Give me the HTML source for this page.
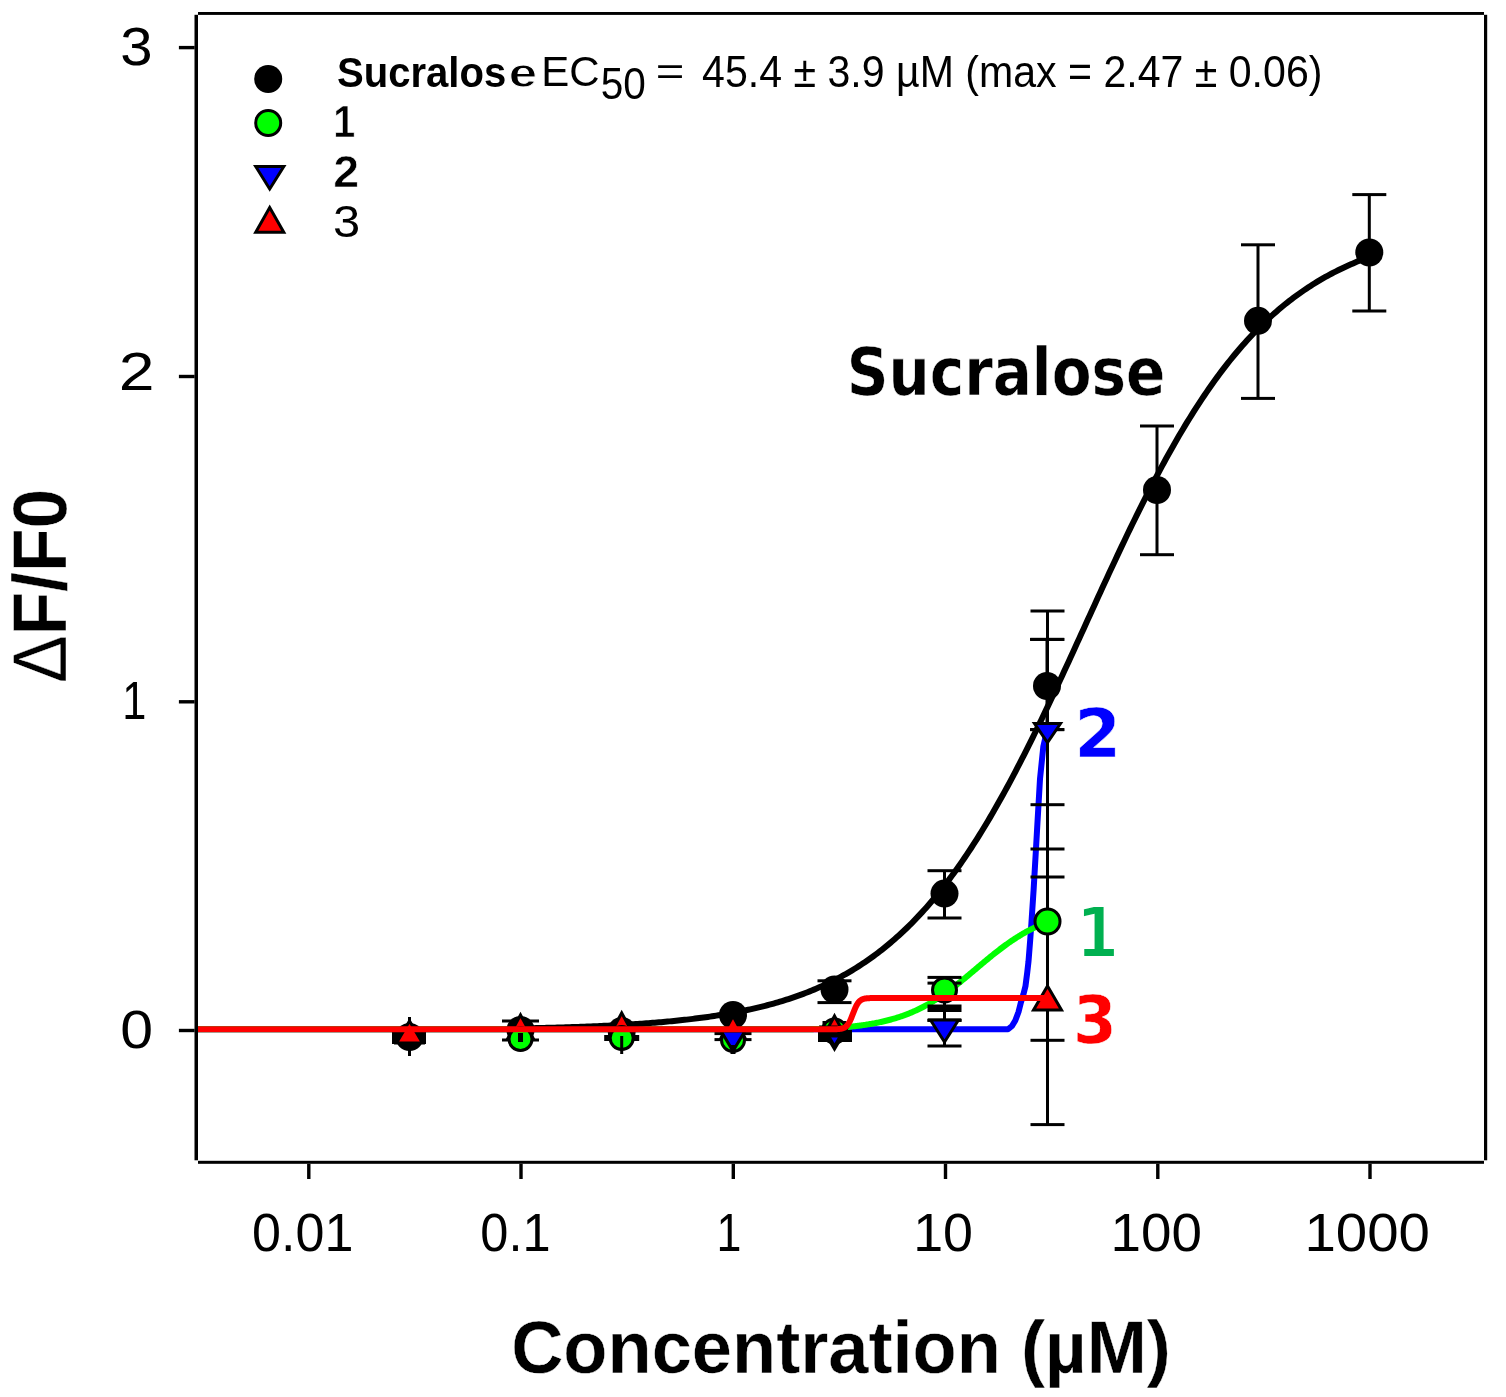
<!DOCTYPE html>
<html><head><meta charset="utf-8"><title>Sucralose dose response</title>
<style>html,body{margin:0;padding:0;background:#fff;}svg{display:block;}</style>
</head><body>
<svg width="1506" height="1397" viewBox="0 0 1506 1397">
<rect width="1506" height="1397" fill="#fff"/>
<rect x="194.5" y="14.8" width="3.5" height="1145.5" fill="#000"/><rect x="198" y="12" width="1286" height="2.9" fill="#000"/><rect x="1484" y="14.8" width="3.2" height="1145.5" fill="#000"/><rect x="198" y="1160.8" width="1286" height="3" fill="#000"/><rect x="178.9" y="45.9" width="15.7" height="3.4" fill="#000"/><rect x="178.9" y="374.8" width="15.7" height="3.4" fill="#000"/><rect x="178.9" y="700.1" width="15.7" height="3.4" fill="#000"/><rect x="178.9" y="1028.8" width="15.7" height="3.4" fill="#000"/><rect x="307.1" y="1163.8" width="3.4" height="15.2" fill="#000"/><rect x="519.3" y="1163.8" width="3.4" height="15.2" fill="#000"/><rect x="731.6" y="1163.8" width="3.4" height="15.2" fill="#000"/><rect x="943.8" y="1163.8" width="3.4" height="15.2" fill="#000"/><rect x="1156.1" y="1163.8" width="3.4" height="15.2" fill="#000"/><rect x="1368.3" y="1163.8" width="3.4" height="15.2" fill="#000"/>
<path d="M198.00,1029.30 L1008.00,1029.30 L1012.00,1026.00 L1015.30,1020.50 L1018.50,1012.00 L1021.00,1002.00 L1023.50,994.00 L1025.50,986.00 L1027.30,972.00 L1028.50,961.40 L1030.20,940.00 L1031.40,923.40 L1033.60,890.00 L1035.80,852.00 L1037.50,822.00 L1040.00,779.00 L1043.30,746.80 L1046.50,733.00" fill="none" stroke="#0000FF" stroke-width="6" stroke-linejoin="round"/><path d="M198.00,1029.30 L199.00,1029.30 L200.00,1029.30 L201.00,1029.30 L202.00,1029.30 L203.00,1029.30 L204.00,1029.30 L205.00,1029.30 L206.00,1029.30 L207.00,1029.30 L208.00,1029.30 L209.00,1029.30 L210.00,1029.30 L211.00,1029.30 L212.00,1029.30 L213.00,1029.30 L214.00,1029.30 L215.00,1029.30 L216.00,1029.30 L217.00,1029.30 L218.00,1029.30 L219.00,1029.30 L220.00,1029.30 L221.00,1029.30 L222.00,1029.30 L223.00,1029.30 L224.00,1029.30 L225.00,1029.30 L226.00,1029.30 L227.00,1029.30 L228.00,1029.30 L229.00,1029.30 L230.00,1029.30 L231.00,1029.30 L232.00,1029.30 L233.00,1029.30 L234.00,1029.30 L235.00,1029.30 L236.00,1029.30 L237.00,1029.30 L238.00,1029.30 L239.00,1029.30 L240.00,1029.30 L241.00,1029.30 L242.00,1029.30 L243.00,1029.30 L244.00,1029.30 L245.00,1029.30 L246.00,1029.30 L247.00,1029.30 L248.00,1029.30 L249.00,1029.30 L250.00,1029.30 L251.00,1029.30 L252.00,1029.30 L253.00,1029.30 L254.00,1029.30 L255.00,1029.30 L256.00,1029.30 L257.00,1029.30 L258.00,1029.30 L259.00,1029.30 L260.00,1029.30 L261.00,1029.30 L262.00,1029.30 L263.00,1029.30 L264.00,1029.30 L265.00,1029.30 L266.00,1029.30 L267.00,1029.30 L268.00,1029.30 L269.00,1029.30 L270.00,1029.30 L271.00,1029.30 L272.00,1029.30 L273.00,1029.30 L274.00,1029.30 L275.00,1029.30 L276.00,1029.30 L277.00,1029.30 L278.00,1029.30 L279.00,1029.30 L280.00,1029.30 L281.00,1029.30 L282.00,1029.30 L283.00,1029.30 L284.00,1029.30 L285.00,1029.30 L286.00,1029.30 L287.00,1029.30 L288.00,1029.30 L289.00,1029.30 L290.00,1029.30 L291.00,1029.30 L292.00,1029.30 L293.00,1029.30 L294.00,1029.30 L295.00,1029.30 L296.00,1029.30 L297.00,1029.30 L298.00,1029.30 L299.00,1029.30 L300.00,1029.30 L301.00,1029.30 L302.00,1029.30 L303.00,1029.30 L304.00,1029.30 L305.00,1029.30 L306.00,1029.30 L307.00,1029.30 L308.00,1029.30 L309.00,1029.30 L310.00,1029.30 L311.00,1029.30 L312.00,1029.30 L313.00,1029.30 L314.00,1029.30 L315.00,1029.30 L316.00,1029.30 L317.00,1029.30 L318.00,1029.30 L319.00,1029.30 L320.00,1029.30 L321.00,1029.30 L322.00,1029.30 L323.00,1029.30 L324.00,1029.30 L325.00,1029.30 L326.00,1029.30 L327.00,1029.30 L328.00,1029.30 L329.00,1029.30 L330.00,1029.30 L331.00,1029.30 L332.00,1029.30 L333.00,1029.30 L334.00,1029.30 L335.00,1029.30 L336.00,1029.30 L337.00,1029.30 L338.00,1029.30 L339.00,1029.30 L340.00,1029.30 L341.00,1029.30 L342.00,1029.30 L343.00,1029.30 L344.00,1029.30 L345.00,1029.30 L346.00,1029.30 L347.00,1029.30 L348.00,1029.30 L349.00,1029.30 L350.00,1029.30 L351.00,1029.30 L352.00,1029.30 L353.00,1029.30 L354.00,1029.30 L355.00,1029.30 L356.00,1029.30 L357.00,1029.30 L358.00,1029.30 L359.00,1029.30 L360.00,1029.30 L361.00,1029.30 L362.00,1029.30 L363.00,1029.30 L364.00,1029.30 L365.00,1029.30 L366.00,1029.30 L367.00,1029.30 L368.00,1029.30 L369.00,1029.30 L370.00,1029.30 L371.00,1029.30 L372.00,1029.30 L373.00,1029.30 L374.00,1029.30 L375.00,1029.30 L376.00,1029.30 L377.00,1029.30 L378.00,1029.30 L379.00,1029.30 L380.00,1029.30 L381.00,1029.30 L382.00,1029.30 L383.00,1029.30 L384.00,1029.30 L385.00,1029.30 L386.00,1029.30 L387.00,1029.30 L388.00,1029.30 L389.00,1029.30 L390.00,1029.30 L391.00,1029.30 L392.00,1029.30 L393.00,1029.30 L394.00,1029.30 L395.00,1029.30 L396.00,1029.30 L397.00,1029.30 L398.00,1029.30 L399.00,1029.30 L400.00,1029.30 L401.00,1029.30 L402.00,1029.30 L403.00,1029.30 L404.00,1029.30 L405.00,1029.30 L406.00,1029.30 L407.00,1029.30 L408.00,1029.30 L409.00,1029.30 L410.00,1029.30 L411.00,1029.30 L412.00,1029.30 L413.00,1029.30 L414.00,1029.30 L415.00,1029.30 L416.00,1029.30 L417.00,1029.30 L418.00,1029.30 L419.00,1029.30 L420.00,1029.30 L421.00,1029.30 L422.00,1029.30 L423.00,1029.30 L424.00,1029.30 L425.00,1029.30 L426.00,1029.30 L427.00,1029.30 L428.00,1029.30 L429.00,1029.30 L430.00,1029.30 L431.00,1029.30 L432.00,1029.30 L433.00,1029.30 L434.00,1029.30 L435.00,1029.30 L436.00,1029.30 L437.00,1029.30 L438.00,1029.30 L439.00,1029.30 L440.00,1029.30 L441.00,1029.30 L442.00,1029.30 L443.00,1029.30 L444.00,1029.30 L445.00,1029.30 L446.00,1029.30 L447.00,1029.30 L448.00,1029.30 L449.00,1029.30 L450.00,1029.30 L451.00,1029.30 L452.00,1029.30 L453.00,1029.30 L454.00,1029.30 L455.00,1029.30 L456.00,1029.30 L457.00,1029.30 L458.00,1029.30 L459.00,1029.30 L460.00,1029.30 L461.00,1029.30 L462.00,1029.30 L463.00,1029.30 L464.00,1029.30 L465.00,1029.30 L466.00,1029.30 L467.00,1029.30 L468.00,1029.30 L469.00,1029.30 L470.00,1029.30 L471.00,1029.30 L472.00,1029.30 L473.00,1029.30 L474.00,1029.30 L475.00,1029.30 L476.00,1029.30 L477.00,1029.30 L478.00,1029.30 L479.00,1029.30 L480.00,1029.30 L481.00,1029.30 L482.00,1029.30 L483.00,1029.30 L484.00,1029.30 L485.00,1029.30 L486.00,1029.30 L487.00,1029.30 L488.00,1029.30 L489.00,1029.30 L490.00,1029.30 L491.00,1029.30 L492.00,1029.30 L493.00,1029.30 L494.00,1029.30 L495.00,1029.30 L496.00,1029.30 L497.00,1029.30 L498.00,1029.30 L499.00,1029.30 L500.00,1029.30 L501.00,1029.30 L502.00,1029.30 L503.00,1029.30 L504.00,1029.30 L505.00,1029.30 L506.00,1029.30 L507.00,1029.30 L508.00,1029.30 L509.00,1029.30 L510.00,1029.30 L511.00,1029.30 L512.00,1029.30 L513.00,1029.30 L514.00,1029.30 L515.00,1029.30 L516.00,1029.30 L517.00,1029.30 L518.00,1029.30 L519.00,1029.30 L520.00,1029.30 L521.00,1029.30 L522.00,1029.30 L523.00,1029.30 L524.00,1029.30 L525.00,1029.30 L526.00,1029.30 L527.00,1029.30 L528.00,1029.30 L529.00,1029.30 L530.00,1029.30 L531.00,1029.30 L532.00,1029.30 L533.00,1029.30 L534.00,1029.30 L535.00,1029.30 L536.00,1029.30 L537.00,1029.30 L538.00,1029.30 L539.00,1029.30 L540.00,1029.30 L541.00,1029.30 L542.00,1029.30 L543.00,1029.30 L544.00,1029.30 L545.00,1029.30 L546.00,1029.30 L547.00,1029.30 L548.00,1029.30 L549.00,1029.30 L550.00,1029.30 L551.00,1029.30 L552.00,1029.30 L553.00,1029.30 L554.00,1029.30 L555.00,1029.30 L556.00,1029.30 L557.00,1029.30 L558.00,1029.30 L559.00,1029.30 L560.00,1029.30 L561.00,1029.30 L562.00,1029.30 L563.00,1029.30 L564.00,1029.30 L565.00,1029.30 L566.00,1029.30 L567.00,1029.30 L568.00,1029.30 L569.00,1029.30 L570.00,1029.30 L571.00,1029.30 L572.00,1029.30 L573.00,1029.30 L574.00,1029.30 L575.00,1029.30 L576.00,1029.30 L577.00,1029.30 L578.00,1029.30 L579.00,1029.30 L580.00,1029.30 L581.00,1029.30 L582.00,1029.30 L583.00,1029.30 L584.00,1029.30 L585.00,1029.30 L586.00,1029.30 L587.00,1029.30 L588.00,1029.30 L589.00,1029.30 L590.00,1029.30 L591.00,1029.30 L592.00,1029.30 L593.00,1029.30 L594.00,1029.30 L595.00,1029.30 L596.00,1029.30 L597.00,1029.30 L598.00,1029.30 L599.00,1029.30 L600.00,1029.30 L601.00,1029.30 L602.00,1029.30 L603.00,1029.30 L604.00,1029.30 L605.00,1029.30 L606.00,1029.30 L607.00,1029.30 L608.00,1029.30 L609.00,1029.30 L610.00,1029.30 L611.00,1029.30 L612.00,1029.30 L613.00,1029.30 L614.00,1029.30 L615.00,1029.30 L616.00,1029.30 L617.00,1029.30 L618.00,1029.30 L619.00,1029.30 L620.00,1029.30 L621.00,1029.30 L622.00,1029.30 L623.00,1029.30 L624.00,1029.30 L625.00,1029.30 L626.00,1029.30 L627.00,1029.30 L628.00,1029.30 L629.00,1029.30 L630.00,1029.30 L631.00,1029.30 L632.00,1029.30 L633.00,1029.30 L634.00,1029.30 L635.00,1029.30 L636.00,1029.30 L637.00,1029.30 L638.00,1029.30 L639.00,1029.30 L640.00,1029.30 L641.00,1029.30 L642.00,1029.30 L643.00,1029.30 L644.00,1029.30 L645.00,1029.30 L646.00,1029.30 L647.00,1029.30 L648.00,1029.30 L649.00,1029.30 L650.00,1029.30 L651.00,1029.30 L652.00,1029.30 L653.00,1029.30 L654.00,1029.30 L655.00,1029.30 L656.00,1029.30 L657.00,1029.30 L658.00,1029.30 L659.00,1029.30 L660.00,1029.30 L661.00,1029.30 L662.00,1029.30 L663.00,1029.30 L664.00,1029.30 L665.00,1029.30 L666.00,1029.30 L667.00,1029.30 L668.00,1029.30 L669.00,1029.30 L670.00,1029.30 L671.00,1029.30 L672.00,1029.30 L673.00,1029.30 L674.00,1029.30 L675.00,1029.30 L676.00,1029.30 L677.00,1029.30 L678.00,1029.30 L679.00,1029.30 L680.00,1029.30 L681.00,1029.30 L682.00,1029.30 L683.00,1029.30 L684.00,1029.30 L685.00,1029.30 L686.00,1029.30 L687.00,1029.30 L688.00,1029.30 L689.00,1029.30 L690.00,1029.30 L691.00,1029.30 L692.00,1029.30 L693.00,1029.30 L694.00,1029.30 L695.00,1029.30 L696.00,1029.30 L697.00,1029.30 L698.00,1029.30 L699.00,1029.30 L700.00,1029.30 L701.00,1029.30 L702.00,1029.30 L703.00,1029.30 L704.00,1029.30 L705.00,1029.30 L706.00,1029.30 L707.00,1029.30 L708.00,1029.30 L709.00,1029.30 L710.00,1029.30 L711.00,1029.30 L712.00,1029.30 L713.00,1029.30 L714.00,1029.30 L715.00,1029.30 L716.00,1029.30 L717.00,1029.30 L718.00,1029.30 L719.00,1029.30 L720.00,1029.30 L721.00,1029.30 L722.00,1029.30 L723.00,1029.30 L724.00,1029.30 L725.00,1029.30 L726.00,1029.30 L727.00,1029.30 L728.00,1029.30 L729.00,1029.30 L730.00,1029.30 L731.00,1029.30 L732.00,1029.30 L733.00,1029.30 L734.00,1029.30 L735.00,1029.30 L736.00,1029.30 L737.00,1029.30 L738.00,1029.30 L739.00,1029.30 L740.00,1029.30 L741.00,1029.30 L742.00,1029.30 L743.00,1029.30 L744.00,1029.30 L745.00,1029.30 L746.00,1029.30 L747.00,1029.30 L748.00,1029.30 L749.00,1029.30 L750.00,1029.30 L751.00,1029.30 L752.00,1029.30 L753.00,1029.30 L754.00,1029.30 L755.00,1029.30 L756.00,1029.30 L757.00,1029.30 L758.00,1029.30 L759.00,1029.30 L760.00,1029.30 L761.00,1029.30 L762.00,1029.30 L763.00,1029.30 L764.00,1029.30 L765.00,1029.30 L766.00,1029.30 L767.00,1029.30 L768.00,1029.30 L769.00,1029.30 L770.00,1029.30 L771.00,1029.30 L772.00,1029.30 L773.00,1029.30 L774.00,1029.30 L775.00,1029.30 L776.00,1029.30 L777.00,1029.30 L778.00,1029.30 L779.00,1029.30 L780.00,1029.30 L781.00,1029.30 L782.00,1029.30 L783.00,1029.30 L784.00,1029.30 L785.00,1029.30 L786.00,1029.30 L787.00,1029.30 L788.00,1029.30 L789.00,1029.30 L790.00,1029.30 L791.00,1029.30 L792.00,1029.30 L793.00,1029.30 L794.00,1029.30 L795.00,1029.30 L796.00,1029.30 L797.00,1029.30 L798.00,1029.30 L799.00,1029.30 L800.00,1029.30 L801.00,1029.30 L802.00,1029.30 L803.00,1029.30 L804.00,1029.30 L805.00,1029.30 L806.00,1029.30 L807.00,1029.30 L808.00,1029.30 L809.00,1029.30 L810.00,1029.27 L811.00,1029.23 L812.00,1029.19 L813.00,1029.15 L814.00,1029.11 L815.00,1029.07 L816.00,1029.03 L817.00,1028.99 L818.00,1028.94 L819.00,1028.90 L820.00,1028.85 L821.00,1028.80 L822.00,1028.76 L823.00,1028.71 L824.00,1028.65 L825.00,1028.60 L826.00,1028.55 L827.00,1028.49 L828.00,1028.43 L829.00,1028.38 L830.00,1028.31 L831.00,1028.25 L832.00,1028.19 L833.00,1028.12 L834.00,1028.06 L835.00,1027.99 L836.00,1027.92 L837.00,1027.85 L838.00,1027.77 L839.00,1027.70 L840.00,1027.62 L841.00,1027.54 L842.00,1027.45 L843.00,1027.37 L844.00,1027.28 L845.00,1027.19 L846.00,1027.10 L847.00,1027.01 L848.00,1026.91 L849.00,1026.81 L850.00,1026.71 L851.00,1026.61 L852.00,1026.50 L853.00,1026.39 L854.00,1026.28 L855.00,1026.17 L856.00,1026.05 L857.00,1025.93 L858.00,1025.81 L859.00,1025.68 L860.00,1025.55 L861.00,1025.42 L862.00,1025.28 L863.00,1025.14 L864.00,1025.00 L865.00,1024.85 L866.00,1024.70 L867.00,1024.54 L868.00,1024.38 L869.00,1024.22 L870.00,1024.06 L871.00,1023.89 L872.00,1023.71 L873.00,1023.53 L874.00,1023.35 L875.00,1023.16 L876.00,1022.97 L877.00,1022.77 L878.00,1022.57 L879.00,1022.36 L880.00,1022.15 L881.00,1021.94 L882.00,1021.72 L883.00,1021.49 L884.00,1021.26 L885.00,1021.02 L886.00,1020.78 L887.00,1020.53 L888.00,1020.27 L889.00,1020.01 L890.00,1019.75 L891.00,1019.48 L892.00,1019.20 L893.00,1018.91 L894.00,1018.62 L895.00,1018.33 L896.00,1018.02 L897.00,1017.71 L898.00,1017.40 L899.00,1017.07 L900.00,1016.74 L901.00,1016.40 L902.00,1016.06 L903.00,1015.71 L904.00,1015.35 L905.00,1014.98 L906.00,1014.61 L907.00,1014.22 L908.00,1013.83 L909.00,1013.44 L910.00,1013.03 L911.00,1012.62 L912.00,1012.20 L913.00,1011.77 L914.00,1011.33 L915.00,1010.88 L916.00,1010.43 L917.00,1009.97 L918.00,1009.49 L919.00,1009.01 L920.00,1008.53 L921.00,1008.03 L922.00,1007.52 L923.00,1007.01 L924.00,1006.49 L925.00,1005.95 L926.00,1005.41 L927.00,1004.86 L928.00,1004.31 L929.00,1003.74 L930.00,1003.16 L931.00,1002.58 L932.00,1001.99 L933.00,1001.38 L934.00,1000.77 L935.00,1000.15 L936.00,999.52 L937.00,998.89 L938.00,998.24 L939.00,997.59 L940.00,996.93 L941.00,996.26 L942.00,995.58 L943.00,994.89 L944.00,994.20 L945.00,993.49 L946.00,992.78 L947.00,992.07 L948.00,991.34 L949.00,990.61 L950.00,989.87 L951.00,989.12 L952.00,988.37 L953.00,987.61 L954.00,986.84 L955.00,986.07 L956.00,985.29 L957.00,984.51 L958.00,983.72 L959.00,982.92 L960.00,982.12 L961.00,981.32 L962.00,980.51 L963.00,979.69 L964.00,978.88 L965.00,978.06 L966.00,977.23 L967.00,976.40 L968.00,975.57 L969.00,974.74 L970.00,973.90 L971.00,973.06 L972.00,972.22 L973.00,971.38 L974.00,970.54 L975.00,969.70 L976.00,968.85 L977.00,968.01 L978.00,967.17 L979.00,966.32 L980.00,965.48 L981.00,964.64 L982.00,963.80 L983.00,962.96 L984.00,962.13 L985.00,961.29 L986.00,960.46 L987.00,959.63 L988.00,958.81 L989.00,957.99 L990.00,957.17 L991.00,956.35 L992.00,955.54 L993.00,954.74 L994.00,953.94 L995.00,953.14 L996.00,952.35 L997.00,951.57 L998.00,950.79 L999.00,950.02 L1000.00,949.25 L1001.00,948.49 L1002.00,947.74 L1003.00,946.99 L1004.00,946.25 L1005.00,945.52 L1006.00,944.79 L1007.00,944.07 L1008.00,943.36 L1009.00,942.66 L1010.00,941.96 L1011.00,941.28 L1012.00,940.60 L1013.00,939.93 L1014.00,939.26 L1015.00,938.61 L1016.00,937.96 L1017.00,937.33 L1018.00,936.70 L1019.00,936.08 L1020.00,935.47 L1021.00,934.86 L1022.00,934.27 L1023.00,933.68 L1024.00,933.11 L1025.00,932.54 L1026.00,931.98 L1027.00,931.43 L1028.00,930.89 L1029.00,930.36 L1030.00,929.83 L1031.00,929.32 L1032.00,928.81 L1033.00,928.32 L1034.00,927.83 L1035.00,927.35 L1036.00,926.87 L1037.00,926.41 L1038.00,925.96 L1039.00,925.51 L1040.00,925.07 L1041.00,924.64 L1042.00,924.22 L1043.00,923.80 L1044.00,923.40 L1045.00,923.00 L1046.00,922.61 L1047.00,922.23" fill="none" stroke="#00FF00" stroke-width="6" stroke-linejoin="round"/>
<path d="M521.04,1028.42 L523.16,1028.38 L525.28,1028.34 L527.41,1028.30 L529.53,1028.25 L531.65,1028.21 L533.77,1028.16 L535.90,1028.11 L538.02,1028.06 L540.14,1028.01 L542.26,1027.96 L544.39,1027.91 L546.51,1027.86 L548.63,1027.80 L550.75,1027.75 L552.88,1027.69 L555.00,1027.63 L557.12,1027.57 L559.24,1027.51 L561.37,1027.45 L563.49,1027.39 L565.61,1027.32 L567.73,1027.25 L569.86,1027.19 L571.98,1027.12 L574.10,1027.04 L576.22,1026.97 L578.34,1026.90 L580.47,1026.82 L582.59,1026.74 L584.71,1026.66 L586.83,1026.58 L588.96,1026.50 L591.08,1026.41 L593.20,1026.32 L595.32,1026.23 L597.45,1026.14 L599.57,1026.05 L601.69,1025.95 L603.81,1025.85 L605.94,1025.75 L608.06,1025.65 L610.18,1025.54 L612.30,1025.43 L614.43,1025.32 L616.55,1025.21 L618.67,1025.10 L620.79,1024.98 L622.92,1024.86 L625.04,1024.73 L627.16,1024.61 L629.28,1024.48 L631.40,1024.34 L633.53,1024.21 L635.65,1024.07 L637.77,1023.93 L639.89,1023.78 L642.02,1023.64 L644.14,1023.48 L646.26,1023.33 L648.38,1023.17 L650.51,1023.01 L652.63,1022.84 L654.75,1022.67 L656.87,1022.50 L659.00,1022.32 L661.12,1022.14 L663.24,1021.95 L665.36,1021.76 L667.49,1021.57 L669.61,1021.37 L671.73,1021.17 L673.85,1020.96 L675.98,1020.75 L678.10,1020.53 L680.22,1020.31 L682.34,1020.08 L684.46,1019.85 L686.59,1019.61 L688.71,1019.36 L690.83,1019.12 L692.95,1018.86 L695.08,1018.60 L697.20,1018.33 L699.32,1018.06 L701.44,1017.78 L703.57,1017.50 L705.69,1017.21 L707.81,1016.91 L709.93,1016.61 L712.06,1016.29 L714.18,1015.98 L716.30,1015.65 L718.42,1015.32 L720.55,1014.98 L722.67,1014.63 L724.79,1014.27 L726.91,1013.91 L729.04,1013.54 L731.16,1013.16 L733.28,1012.77 L735.40,1012.37 L737.52,1011.97 L739.65,1011.55 L741.77,1011.13 L743.89,1010.70 L746.01,1010.25 L748.14,1009.80 L750.26,1009.34 L752.38,1008.86 L754.50,1008.38 L756.63,1007.89 L758.75,1007.38 L760.87,1006.87 L762.99,1006.34 L765.12,1005.80 L767.24,1005.25 L769.36,1004.68 L771.48,1004.11 L773.61,1003.52 L775.73,1002.92 L777.85,1002.31 L779.97,1001.68 L782.10,1001.04 L784.22,1000.39 L786.34,999.72 L788.46,999.04 L790.58,998.34 L792.71,997.63 L794.83,996.90 L796.95,996.16 L799.07,995.40 L801.20,994.62 L803.32,993.83 L805.44,993.02 L807.56,992.20 L809.69,991.35 L811.81,990.49 L813.93,989.62 L816.05,988.72 L818.18,987.80 L820.30,986.87 L822.42,985.91 L824.54,984.94 L826.67,983.95 L828.79,982.93 L830.91,981.90 L833.03,980.84 L835.16,979.76 L837.28,978.66 L839.40,977.54 L841.52,976.40 L843.64,975.23 L845.77,974.04 L847.89,972.82 L850.01,971.58 L852.13,970.32 L854.26,969.03 L856.38,967.71 L858.50,966.37 L860.62,965.00 L862.75,963.61 L864.87,962.19 L866.99,960.74 L869.11,959.27 L871.24,957.76 L873.36,956.23 L875.48,954.67 L877.60,953.08 L879.73,951.45 L881.85,949.80 L883.97,948.12 L886.09,946.41 L888.22,944.66 L890.34,942.88 L892.46,941.07 L894.58,939.23 L896.70,937.36 L898.83,935.45 L900.95,933.50 L903.07,931.53 L905.19,929.51 L907.32,927.47 L909.44,925.38 L911.56,923.26 L913.68,921.11 L915.81,918.92 L917.93,916.69 L920.05,914.42 L922.17,912.12 L924.30,909.78 L926.42,907.40 L928.54,904.98 L930.66,902.53 L932.79,900.03 L934.91,897.50 L937.03,894.92 L939.15,892.31 L941.28,889.66 L943.40,886.96 L945.52,884.23 L947.64,881.45 L949.76,878.64 L951.89,875.78 L954.01,872.89 L956.13,869.95 L958.25,866.97 L960.38,863.95 L962.50,860.89 L964.62,857.78 L966.74,854.64 L968.87,851.45 L970.99,848.23 L973.11,844.96 L975.23,841.65 L977.36,838.30 L979.48,834.91 L981.60,831.48 L983.72,828.01 L985.85,824.50 L987.97,820.94 L990.09,817.35 L992.21,813.72 L994.34,810.05 L996.46,806.34 L998.58,802.60 L1000.70,798.81 L1002.82,794.99 L1004.95,791.13 L1007.07,787.24 L1009.19,783.30 L1011.31,779.34 L1013.44,775.34 L1015.56,771.30 L1017.68,767.23 L1019.80,763.13 L1021.93,758.99 L1024.05,754.83 L1026.17,750.63 L1028.29,746.40 L1030.42,742.15 L1032.54,737.86 L1034.66,733.55 L1036.78,729.21 L1038.91,724.85 L1041.03,720.46 L1043.15,716.05 L1045.27,711.62 L1047.40,707.16 L1049.52,702.68 L1051.64,698.19 L1053.76,693.67 L1055.88,689.14 L1058.01,684.59 L1060.13,680.02 L1062.25,675.45 L1064.37,670.85 L1066.50,666.25 L1068.62,661.64 L1070.74,657.01 L1072.86,652.38 L1074.99,647.74 L1077.11,643.10 L1079.23,638.45 L1081.35,633.80 L1083.48,629.15 L1085.60,624.49 L1087.72,619.84 L1089.84,615.18 L1091.97,610.53 L1094.09,605.89 L1096.21,601.25 L1098.33,596.61 L1100.46,591.98 L1102.58,587.37 L1104.70,582.76 L1106.82,578.16 L1108.94,573.58 L1111.07,569.01 L1113.19,564.45 L1115.31,559.91 L1117.43,555.39 L1119.56,550.89 L1121.68,546.40 L1123.80,541.94 L1125.92,537.49 L1128.05,533.07 L1130.17,528.67 L1132.29,524.30 L1134.41,519.95 L1136.54,515.63 L1138.66,511.33 L1140.78,507.06 L1142.90,502.83 L1145.03,498.62 L1147.15,494.44 L1149.27,490.29 L1151.39,486.17 L1153.52,482.09 L1155.64,478.04 L1157.76,474.03 L1159.88,470.04 L1162.00,466.10 L1164.13,462.19 L1166.25,458.31 L1168.37,454.48 L1170.49,450.68 L1172.62,446.91 L1174.74,443.19 L1176.86,439.50 L1178.98,435.86 L1181.11,432.25 L1183.23,428.68 L1185.35,425.15 L1187.47,421.67 L1189.60,418.22 L1191.72,414.81 L1193.84,411.44 L1195.96,408.12 L1198.09,404.83 L1200.21,401.59 L1202.33,398.39 L1204.45,395.23 L1206.58,392.11 L1208.70,389.03 L1210.82,385.99 L1212.94,382.99 L1215.06,380.04 L1217.19,377.13 L1219.31,374.25 L1221.43,371.42 L1223.55,368.63 L1225.68,365.88 L1227.80,363.17 L1229.92,360.50 L1232.04,357.87 L1234.17,355.28 L1236.29,352.73 L1238.41,350.22 L1240.53,347.74 L1242.66,345.31 L1244.78,342.91 L1246.90,340.56 L1249.02,338.24 L1251.15,335.96 L1253.27,333.72 L1255.39,331.51 L1257.51,329.34 L1259.64,327.21 L1261.76,325.11 L1263.88,323.05 L1266.00,321.02 L1268.12,319.03 L1270.25,317.07 L1272.37,315.15 L1274.49,313.26 L1276.61,311.40 L1278.74,309.58 L1280.86,307.79 L1282.98,306.03 L1285.10,304.30 L1287.23,302.61 L1289.35,300.94 L1291.47,299.31 L1293.59,297.71 L1295.72,296.13 L1297.84,294.59 L1299.96,293.07 L1302.08,291.58 L1304.21,290.12 L1306.33,288.69 L1308.45,287.29 L1310.57,285.91 L1312.70,284.56 L1314.82,283.23 L1316.94,281.93 L1319.06,280.66 L1321.18,279.41 L1323.31,278.18 L1325.43,276.98 L1327.55,275.80 L1329.67,274.65 L1331.80,273.52 L1333.92,272.41 L1336.04,271.32 L1338.16,270.26 L1340.29,269.21 L1342.41,268.19 L1344.53,267.19 L1346.65,266.21 L1348.78,265.24 L1350.90,264.30 L1353.02,263.38 L1355.14,262.47 L1357.27,261.59 L1359.39,260.72 L1361.51,259.87 L1363.63,259.04 L1365.76,258.22 L1367.88,257.42 L1370.00,256.64" fill="none" stroke="#000" stroke-width="6" stroke-linejoin="round"/>
<rect x="833.0" y="980.8" width="3" height="21.8" fill="#000"/><rect x="817.5" y="979.3" width="34" height="3" fill="#000"/><rect x="817.5" y="1001.1" width="34" height="3" fill="#000"/><circle cx="834.5" cy="989.5" r="14" fill="#000"/><rect x="943.0" y="870.7" width="3" height="47.3" fill="#000"/><rect x="927.5" y="869.2" width="34" height="3" fill="#000"/><rect x="927.5" y="916.5" width="34" height="3" fill="#000"/><circle cx="944.5" cy="893.6" r="14" fill="#000"/><rect x="1045.5" y="639.4" width="3" height="90.2" fill="#000"/><rect x="1030.0" y="637.9" width="34" height="3" fill="#000"/><rect x="1030.0" y="728.1" width="34" height="3" fill="#000"/><circle cx="1047.0" cy="686.0" r="14" fill="#000"/><rect x="1155.5" y="426.0" width="3" height="128.7" fill="#000"/><rect x="1140.0" y="424.5" width="34" height="3" fill="#000"/><rect x="1140.0" y="553.2" width="34" height="3" fill="#000"/><circle cx="1157.0" cy="490.0" r="14" fill="#000"/><rect x="1256.5" y="244.8" width="3" height="153.6" fill="#000"/><rect x="1241.0" y="243.3" width="34" height="3" fill="#000"/><rect x="1241.0" y="396.9" width="34" height="3" fill="#000"/><circle cx="1258.0" cy="320.8" r="14" fill="#000"/><rect x="1367.8" y="194.6" width="3" height="116.4" fill="#000"/><rect x="1352.3" y="193.1" width="34" height="3" fill="#000"/><rect x="1352.3" y="309.5" width="34" height="3" fill="#000"/><circle cx="1369.3" cy="252.5" r="14" fill="#000"/><rect x="408.0" y="1017.0" width="3" height="39.0" fill="#000"/><circle cx="409.5" cy="1037" r="14" fill="#000"/><rect x="392" y="1030" width="34" height="14" fill="#000"/><path d="M396.5,1043.0 L422.5,1043.0 L409.5,1021.0 Z" fill="#FF0000" stroke="#000" stroke-width="3" stroke-linejoin="miter"/><circle cx="520.5" cy="1030" r="14" fill="#000"/><rect x="502.0" y="1019.5" width="37" height="3" fill="#000"/><rect x="502.0" y="1038.5" width="37" height="3" fill="#000"/><path d="M507.5,1039.0 L533.5,1039.0 L520.5,1015.0 Z" fill="#FF0000" stroke="#000" stroke-width="3" stroke-linejoin="miter"/><circle cx="520.5" cy="1039.0" r="11.5" fill="#00FF00" stroke="#000" stroke-width="3"/><rect x="518.0" y="1033.0" width="5" height="9.0" fill="#000"/><circle cx="621.7" cy="1031" r="14" fill="#000"/><rect x="604.2" y="1035.0" width="35" height="6" fill="#000"/><path d="M609.7,1035.0 L633.7,1035.0 L621.7,1013.0 Z" fill="#FF0000" stroke="#000" stroke-width="3" stroke-linejoin="miter"/><circle cx="621.7" cy="1038.0" r="11.5" fill="#00FF00" stroke="#000" stroke-width="3"/><rect x="620.2" y="1036.0" width="3" height="18.0" fill="#000"/><circle cx="733.0" cy="1015" r="14" fill="#000"/><rect x="714.5" y="1032.1" width="37" height="3" fill="#000"/><rect x="714.5" y="1038.1" width="37" height="3" fill="#000"/><path d="M721.0,1038.0 L745.0,1038.0 L733.0,1016.0 Z" fill="#FF0000" stroke="#000" stroke-width="3" stroke-linejoin="miter"/><circle cx="733.0" cy="1040.0" r="11.5" fill="#00FF00" stroke="#000" stroke-width="3"/><path d="M721.0,1031.0 L745.0,1031.0 L733.0,1051.0 Z" fill="#0000FF" stroke="#000" stroke-width="3" stroke-linejoin="miter"/><rect x="730.5" y="1045.0" width="5" height="9.0" fill="#000"/><rect x="822.5" y="1021.0" width="24" height="6" fill="#000"/><circle cx="834.5" cy="1031.0" r="12" fill="#00FF00" stroke="#000" stroke-width="3"/><path d="M822.5,1038.0 L846.5,1038.0 L834.5,1016.0 Z" fill="#FF0000" stroke="#000" stroke-width="3" stroke-linejoin="miter"/><path d="M821.5,1027.0 L847.5,1027.0 L834.5,1049.0 Z" fill="#0000FF" stroke="#000" stroke-width="3" stroke-linejoin="miter"/><rect x="818" y="1030" width="34" height="12" fill="#000"/><path d="M828.5,1036.0 L840.5,1036.0 L834.5,1046.0 Z" fill="#0000FF" stroke="#000" stroke-width="3" stroke-linejoin="miter"/><rect x="943.0" y="977.4" width="3" height="42.9" fill="#000"/><rect x="927.5" y="975.9" width="34" height="3" fill="#000"/><rect x="927.5" y="1018.8" width="34" height="3" fill="#000"/><rect x="927.5" y="981.6" width="34" height="3" fill="#000"/><circle cx="944.5" cy="990.0" r="12" fill="#00FF00" stroke="#000" stroke-width="3"/><rect x="927.5" y="1004.5" width="34" height="7.5" fill="#000"/><rect x="943.0" y="1020.3" width="3" height="25.7" fill="#000"/><rect x="927.5" y="1018.8" width="34" height="3" fill="#000"/><rect x="927.5" y="1044.5" width="34" height="3" fill="#000"/><path d="M930.5,1020.0 L958.5,1020.0 L944.5,1042.0 Z" fill="#0000FF" stroke="#000" stroke-width="3" stroke-linejoin="miter"/><rect x="1046.0" y="611.0" width="3" height="513.6" fill="#000"/><rect x="1030.5" y="609.5" width="34" height="3" fill="#000"/><rect x="1030.5" y="1123.1" width="34" height="3" fill="#000"/><rect x="1030.5" y="637.9" width="34" height="3" fill="#000"/><rect x="1030.5" y="728.1" width="34" height="3" fill="#000"/><rect x="1030.5" y="803.2" width="34" height="3" fill="#000"/><rect x="1030.5" y="847.5" width="34" height="3" fill="#000"/><rect x="1030.5" y="875.5" width="34" height="3" fill="#000"/><rect x="1030.5" y="1038.8" width="34" height="3" fill="#000"/><path d="M1034.5,723.5 L1060.5,723.5 L1047.5,742.5 Z" fill="#0000FF" stroke="#000" stroke-width="3" stroke-linejoin="miter"/><circle cx="1047.5" cy="921.5" r="12.5" fill="#00FF00" stroke="#000" stroke-width="3"/><path d="M1033.5,1010.0 L1061.5,1010.0 L1047.5,986.0 Z" fill="#FF0000" stroke="#000" stroke-width="3" stroke-linejoin="miter"/>
<path d="M198.00,1029.30 L198.50,1029.30 L199.00,1029.30 L199.50,1029.30 L200.00,1029.30 L200.50,1029.30 L201.00,1029.30 L201.50,1029.30 L202.00,1029.30 L202.50,1029.30 L203.00,1029.30 L203.50,1029.30 L204.00,1029.30 L204.50,1029.30 L205.00,1029.30 L205.50,1029.30 L206.00,1029.30 L206.50,1029.30 L207.00,1029.30 L207.50,1029.30 L208.00,1029.30 L208.50,1029.30 L209.00,1029.30 L209.50,1029.30 L210.00,1029.30 L210.50,1029.30 L211.00,1029.30 L211.50,1029.30 L212.00,1029.30 L212.50,1029.30 L213.00,1029.30 L213.50,1029.30 L214.00,1029.30 L214.50,1029.30 L215.00,1029.30 L215.50,1029.30 L216.00,1029.30 L216.50,1029.30 L217.00,1029.30 L217.50,1029.30 L218.00,1029.30 L218.50,1029.30 L219.00,1029.30 L219.50,1029.30 L220.00,1029.30 L220.50,1029.30 L221.00,1029.30 L221.50,1029.30 L222.00,1029.30 L222.50,1029.30 L223.00,1029.30 L223.50,1029.30 L224.00,1029.30 L224.50,1029.30 L225.00,1029.30 L225.50,1029.30 L226.00,1029.30 L226.50,1029.30 L227.00,1029.30 L227.50,1029.30 L228.00,1029.30 L228.50,1029.30 L229.00,1029.30 L229.50,1029.30 L230.00,1029.30 L230.50,1029.30 L231.00,1029.30 L231.50,1029.30 L232.00,1029.30 L232.50,1029.30 L233.00,1029.30 L233.50,1029.30 L234.00,1029.30 L234.50,1029.30 L235.00,1029.30 L235.50,1029.30 L236.00,1029.30 L236.50,1029.30 L237.00,1029.30 L237.50,1029.30 L238.00,1029.30 L238.50,1029.30 L239.00,1029.30 L239.50,1029.30 L240.00,1029.30 L240.50,1029.30 L241.00,1029.30 L241.50,1029.30 L242.00,1029.30 L242.50,1029.30 L243.00,1029.30 L243.50,1029.30 L244.00,1029.30 L244.50,1029.30 L245.00,1029.30 L245.50,1029.30 L246.00,1029.30 L246.50,1029.30 L247.00,1029.30 L247.50,1029.30 L248.00,1029.30 L248.50,1029.30 L249.00,1029.30 L249.50,1029.30 L250.00,1029.30 L250.50,1029.30 L251.00,1029.30 L251.50,1029.30 L252.00,1029.30 L252.50,1029.30 L253.00,1029.30 L253.50,1029.30 L254.00,1029.30 L254.50,1029.30 L255.00,1029.30 L255.50,1029.30 L256.00,1029.30 L256.50,1029.30 L257.00,1029.30 L257.50,1029.30 L258.00,1029.30 L258.50,1029.30 L259.00,1029.30 L259.50,1029.30 L260.00,1029.30 L260.50,1029.30 L261.00,1029.30 L261.50,1029.30 L262.00,1029.30 L262.50,1029.30 L263.00,1029.30 L263.50,1029.30 L264.00,1029.30 L264.50,1029.30 L265.00,1029.30 L265.50,1029.30 L266.00,1029.30 L266.50,1029.30 L267.00,1029.30 L267.50,1029.30 L268.00,1029.30 L268.50,1029.30 L269.00,1029.30 L269.50,1029.30 L270.00,1029.30 L270.50,1029.30 L271.00,1029.30 L271.50,1029.30 L272.00,1029.30 L272.50,1029.30 L273.00,1029.30 L273.50,1029.30 L274.00,1029.30 L274.50,1029.30 L275.00,1029.30 L275.50,1029.30 L276.00,1029.30 L276.50,1029.30 L277.00,1029.30 L277.50,1029.30 L278.00,1029.30 L278.50,1029.30 L279.00,1029.30 L279.50,1029.30 L280.00,1029.30 L280.50,1029.30 L281.00,1029.30 L281.50,1029.30 L282.00,1029.30 L282.50,1029.30 L283.00,1029.30 L283.50,1029.30 L284.00,1029.30 L284.50,1029.30 L285.00,1029.30 L285.50,1029.30 L286.00,1029.30 L286.50,1029.30 L287.00,1029.30 L287.50,1029.30 L288.00,1029.30 L288.50,1029.30 L289.00,1029.30 L289.50,1029.30 L290.00,1029.30 L290.50,1029.30 L291.00,1029.30 L291.50,1029.30 L292.00,1029.30 L292.50,1029.30 L293.00,1029.30 L293.50,1029.30 L294.00,1029.30 L294.50,1029.30 L295.00,1029.30 L295.50,1029.30 L296.00,1029.30 L296.50,1029.30 L297.00,1029.30 L297.50,1029.30 L298.00,1029.30 L298.50,1029.30 L299.00,1029.30 L299.50,1029.30 L300.00,1029.30 L300.50,1029.30 L301.00,1029.30 L301.50,1029.30 L302.00,1029.30 L302.50,1029.30 L303.00,1029.30 L303.50,1029.30 L304.00,1029.30 L304.50,1029.30 L305.00,1029.30 L305.50,1029.30 L306.00,1029.30 L306.50,1029.30 L307.00,1029.30 L307.50,1029.30 L308.00,1029.30 L308.50,1029.30 L309.00,1029.30 L309.50,1029.30 L310.00,1029.30 L310.50,1029.30 L311.00,1029.30 L311.50,1029.30 L312.00,1029.30 L312.50,1029.30 L313.00,1029.30 L313.50,1029.30 L314.00,1029.30 L314.50,1029.30 L315.00,1029.30 L315.50,1029.30 L316.00,1029.30 L316.50,1029.30 L317.00,1029.30 L317.50,1029.30 L318.00,1029.30 L318.50,1029.30 L319.00,1029.30 L319.50,1029.30 L320.00,1029.30 L320.50,1029.30 L321.00,1029.30 L321.50,1029.30 L322.00,1029.30 L322.50,1029.30 L323.00,1029.30 L323.50,1029.30 L324.00,1029.30 L324.50,1029.30 L325.00,1029.30 L325.50,1029.30 L326.00,1029.30 L326.50,1029.30 L327.00,1029.30 L327.50,1029.30 L328.00,1029.30 L328.50,1029.30 L329.00,1029.30 L329.50,1029.30 L330.00,1029.30 L330.50,1029.30 L331.00,1029.30 L331.50,1029.30 L332.00,1029.30 L332.50,1029.30 L333.00,1029.30 L333.50,1029.30 L334.00,1029.30 L334.50,1029.30 L335.00,1029.30 L335.50,1029.30 L336.00,1029.30 L336.50,1029.30 L337.00,1029.30 L337.50,1029.30 L338.00,1029.30 L338.50,1029.30 L339.00,1029.30 L339.50,1029.30 L340.00,1029.30 L340.50,1029.30 L341.00,1029.30 L341.50,1029.30 L342.00,1029.30 L342.50,1029.30 L343.00,1029.30 L343.50,1029.30 L344.00,1029.30 L344.50,1029.30 L345.00,1029.30 L345.50,1029.30 L346.00,1029.30 L346.50,1029.30 L347.00,1029.30 L347.50,1029.30 L348.00,1029.30 L348.50,1029.30 L349.00,1029.30 L349.50,1029.30 L350.00,1029.30 L350.50,1029.30 L351.00,1029.30 L351.50,1029.30 L352.00,1029.30 L352.50,1029.30 L353.00,1029.30 L353.50,1029.30 L354.00,1029.30 L354.50,1029.30 L355.00,1029.30 L355.50,1029.30 L356.00,1029.30 L356.50,1029.30 L357.00,1029.30 L357.50,1029.30 L358.00,1029.30 L358.50,1029.30 L359.00,1029.30 L359.50,1029.30 L360.00,1029.30 L360.50,1029.30 L361.00,1029.30 L361.50,1029.30 L362.00,1029.30 L362.50,1029.30 L363.00,1029.30 L363.50,1029.30 L364.00,1029.30 L364.50,1029.30 L365.00,1029.30 L365.50,1029.30 L366.00,1029.30 L366.50,1029.30 L367.00,1029.30 L367.50,1029.30 L368.00,1029.30 L368.50,1029.30 L369.00,1029.30 L369.50,1029.30 L370.00,1029.30 L370.50,1029.30 L371.00,1029.30 L371.50,1029.30 L372.00,1029.30 L372.50,1029.30 L373.00,1029.30 L373.50,1029.30 L374.00,1029.30 L374.50,1029.30 L375.00,1029.30 L375.50,1029.30 L376.00,1029.30 L376.50,1029.30 L377.00,1029.30 L377.50,1029.30 L378.00,1029.30 L378.50,1029.30 L379.00,1029.30 L379.50,1029.30 L380.00,1029.30 L380.50,1029.30 L381.00,1029.30 L381.50,1029.30 L382.00,1029.30 L382.50,1029.30 L383.00,1029.30 L383.50,1029.30 L384.00,1029.30 L384.50,1029.30 L385.00,1029.30 L385.50,1029.30 L386.00,1029.30 L386.50,1029.30 L387.00,1029.30 L387.50,1029.30 L388.00,1029.30 L388.50,1029.30 L389.00,1029.30 L389.50,1029.30 L390.00,1029.30 L390.50,1029.30 L391.00,1029.30 L391.50,1029.30 L392.00,1029.30 L392.50,1029.30 L393.00,1029.30 L393.50,1029.30 L394.00,1029.30 L394.50,1029.30 L395.00,1029.30 L395.50,1029.30 L396.00,1029.30 L396.50,1029.30 L397.00,1029.30 L397.50,1029.30 L398.00,1029.30 L398.50,1029.30 L399.00,1029.30 L399.50,1029.30 L400.00,1029.30 L400.50,1029.30 L401.00,1029.30 L401.50,1029.30 L402.00,1029.30 L402.50,1029.30 L403.00,1029.30 L403.50,1029.30 L404.00,1029.30 L404.50,1029.30 L405.00,1029.30 L405.50,1029.30 L406.00,1029.30 L406.50,1029.30 L407.00,1029.30 L407.50,1029.30 L408.00,1029.30 L408.50,1029.30 L409.00,1029.30 L409.50,1029.30 L410.00,1029.30 L410.50,1029.30 L411.00,1029.30 L411.50,1029.30 L412.00,1029.30 L412.50,1029.30 L413.00,1029.30 L413.50,1029.30 L414.00,1029.30 L414.50,1029.30 L415.00,1029.30 L415.50,1029.30 L416.00,1029.30 L416.50,1029.30 L417.00,1029.30 L417.50,1029.30 L418.00,1029.30 L418.50,1029.30 L419.00,1029.30 L419.50,1029.30 L420.00,1029.30 L420.50,1029.30 L421.00,1029.30 L421.50,1029.30 L422.00,1029.30 L422.50,1029.30 L423.00,1029.30 L423.50,1029.30 L424.00,1029.30 L424.50,1029.30 L425.00,1029.30 L425.50,1029.30 L426.00,1029.30 L426.50,1029.30 L427.00,1029.30 L427.50,1029.30 L428.00,1029.30 L428.50,1029.30 L429.00,1029.30 L429.50,1029.30 L430.00,1029.30 L430.50,1029.30 L431.00,1029.30 L431.50,1029.30 L432.00,1029.30 L432.50,1029.30 L433.00,1029.30 L433.50,1029.30 L434.00,1029.30 L434.50,1029.30 L435.00,1029.30 L435.50,1029.30 L436.00,1029.30 L436.50,1029.30 L437.00,1029.30 L437.50,1029.30 L438.00,1029.30 L438.50,1029.30 L439.00,1029.30 L439.50,1029.30 L440.00,1029.30 L440.50,1029.30 L441.00,1029.30 L441.50,1029.30 L442.00,1029.30 L442.50,1029.30 L443.00,1029.30 L443.50,1029.30 L444.00,1029.30 L444.50,1029.30 L445.00,1029.30 L445.50,1029.30 L446.00,1029.30 L446.50,1029.30 L447.00,1029.30 L447.50,1029.30 L448.00,1029.30 L448.50,1029.30 L449.00,1029.30 L449.50,1029.30 L450.00,1029.30 L450.50,1029.30 L451.00,1029.30 L451.50,1029.30 L452.00,1029.30 L452.50,1029.30 L453.00,1029.30 L453.50,1029.30 L454.00,1029.30 L454.50,1029.30 L455.00,1029.30 L455.50,1029.30 L456.00,1029.30 L456.50,1029.30 L457.00,1029.30 L457.50,1029.30 L458.00,1029.30 L458.50,1029.30 L459.00,1029.30 L459.50,1029.30 L460.00,1029.30 L460.50,1029.30 L461.00,1029.30 L461.50,1029.30 L462.00,1029.30 L462.50,1029.30 L463.00,1029.30 L463.50,1029.30 L464.00,1029.30 L464.50,1029.30 L465.00,1029.30 L465.50,1029.30 L466.00,1029.30 L466.50,1029.30 L467.00,1029.30 L467.50,1029.30 L468.00,1029.30 L468.50,1029.30 L469.00,1029.30 L469.50,1029.30 L470.00,1029.30 L470.50,1029.30 L471.00,1029.30 L471.50,1029.30 L472.00,1029.30 L472.50,1029.30 L473.00,1029.30 L473.50,1029.30 L474.00,1029.30 L474.50,1029.30 L475.00,1029.30 L475.50,1029.30 L476.00,1029.30 L476.50,1029.30 L477.00,1029.30 L477.50,1029.30 L478.00,1029.30 L478.50,1029.30 L479.00,1029.30 L479.50,1029.30 L480.00,1029.30 L480.50,1029.30 L481.00,1029.30 L481.50,1029.30 L482.00,1029.30 L482.50,1029.30 L483.00,1029.30 L483.50,1029.30 L484.00,1029.30 L484.50,1029.30 L485.00,1029.30 L485.50,1029.30 L486.00,1029.30 L486.50,1029.30 L487.00,1029.30 L487.50,1029.30 L488.00,1029.30 L488.50,1029.30 L489.00,1029.30 L489.50,1029.30 L490.00,1029.30 L490.50,1029.30 L491.00,1029.30 L491.50,1029.30 L492.00,1029.30 L492.50,1029.30 L493.00,1029.30 L493.50,1029.30 L494.00,1029.30 L494.50,1029.30 L495.00,1029.30 L495.50,1029.30 L496.00,1029.30 L496.50,1029.30 L497.00,1029.30 L497.50,1029.30 L498.00,1029.30 L498.50,1029.30 L499.00,1029.30 L499.50,1029.30 L500.00,1029.30 L500.50,1029.30 L501.00,1029.30 L501.50,1029.30 L502.00,1029.30 L502.50,1029.30 L503.00,1029.30 L503.50,1029.30 L504.00,1029.30 L504.50,1029.30 L505.00,1029.30 L505.50,1029.30 L506.00,1029.30 L506.50,1029.30 L507.00,1029.30 L507.50,1029.30 L508.00,1029.30 L508.50,1029.30 L509.00,1029.30 L509.50,1029.30 L510.00,1029.30 L510.50,1029.30 L511.00,1029.30 L511.50,1029.30 L512.00,1029.30 L512.50,1029.30 L513.00,1029.30 L513.50,1029.30 L514.00,1029.30 L514.50,1029.30 L515.00,1029.30 L515.50,1029.30 L516.00,1029.30 L516.50,1029.30 L517.00,1029.30 L517.50,1029.30 L518.00,1029.30 L518.50,1029.30 L519.00,1029.30 L519.50,1029.30 L520.00,1029.30 L520.50,1029.30 L521.00,1029.30 L521.50,1029.30 L522.00,1029.30 L522.50,1029.30 L523.00,1029.30 L523.50,1029.30 L524.00,1029.30 L524.50,1029.30 L525.00,1029.30 L525.50,1029.30 L526.00,1029.30 L526.50,1029.30 L527.00,1029.30 L527.50,1029.30 L528.00,1029.30 L528.50,1029.30 L529.00,1029.30 L529.50,1029.30 L530.00,1029.30 L530.50,1029.30 L531.00,1029.30 L531.50,1029.30 L532.00,1029.30 L532.50,1029.30 L533.00,1029.30 L533.50,1029.30 L534.00,1029.30 L534.50,1029.30 L535.00,1029.30 L535.50,1029.30 L536.00,1029.30 L536.50,1029.30 L537.00,1029.30 L537.50,1029.30 L538.00,1029.30 L538.50,1029.30 L539.00,1029.30 L539.50,1029.30 L540.00,1029.30 L540.50,1029.30 L541.00,1029.30 L541.50,1029.30 L542.00,1029.30 L542.50,1029.30 L543.00,1029.30 L543.50,1029.30 L544.00,1029.30 L544.50,1029.30 L545.00,1029.30 L545.50,1029.30 L546.00,1029.30 L546.50,1029.30 L547.00,1029.30 L547.50,1029.30 L548.00,1029.30 L548.50,1029.30 L549.00,1029.30 L549.50,1029.30 L550.00,1029.30 L550.50,1029.30 L551.00,1029.30 L551.50,1029.30 L552.00,1029.30 L552.50,1029.30 L553.00,1029.30 L553.50,1029.30 L554.00,1029.30 L554.50,1029.30 L555.00,1029.30 L555.50,1029.30 L556.00,1029.30 L556.50,1029.30 L557.00,1029.30 L557.50,1029.30 L558.00,1029.30 L558.50,1029.30 L559.00,1029.30 L559.50,1029.30 L560.00,1029.30 L560.50,1029.30 L561.00,1029.30 L561.50,1029.30 L562.00,1029.30 L562.50,1029.30 L563.00,1029.30 L563.50,1029.30 L564.00,1029.30 L564.50,1029.30 L565.00,1029.30 L565.50,1029.30 L566.00,1029.30 L566.50,1029.30 L567.00,1029.30 L567.50,1029.30 L568.00,1029.30 L568.50,1029.30 L569.00,1029.30 L569.50,1029.30 L570.00,1029.30 L570.50,1029.30 L571.00,1029.30 L571.50,1029.30 L572.00,1029.30 L572.50,1029.30 L573.00,1029.30 L573.50,1029.30 L574.00,1029.30 L574.50,1029.30 L575.00,1029.30 L575.50,1029.30 L576.00,1029.30 L576.50,1029.30 L577.00,1029.30 L577.50,1029.30 L578.00,1029.30 L578.50,1029.30 L579.00,1029.30 L579.50,1029.30 L580.00,1029.30 L580.50,1029.30 L581.00,1029.30 L581.50,1029.30 L582.00,1029.30 L582.50,1029.30 L583.00,1029.30 L583.50,1029.30 L584.00,1029.30 L584.50,1029.30 L585.00,1029.30 L585.50,1029.30 L586.00,1029.30 L586.50,1029.30 L587.00,1029.30 L587.50,1029.30 L588.00,1029.30 L588.50,1029.30 L589.00,1029.30 L589.50,1029.30 L590.00,1029.30 L590.50,1029.30 L591.00,1029.30 L591.50,1029.30 L592.00,1029.30 L592.50,1029.30 L593.00,1029.30 L593.50,1029.30 L594.00,1029.30 L594.50,1029.30 L595.00,1029.30 L595.50,1029.30 L596.00,1029.30 L596.50,1029.30 L597.00,1029.30 L597.50,1029.30 L598.00,1029.30 L598.50,1029.30 L599.00,1029.30 L599.50,1029.30 L600.00,1029.30 L600.50,1029.30 L601.00,1029.30 L601.50,1029.30 L602.00,1029.30 L602.50,1029.30 L603.00,1029.30 L603.50,1029.30 L604.00,1029.30 L604.50,1029.30 L605.00,1029.30 L605.50,1029.30 L606.00,1029.30 L606.50,1029.30 L607.00,1029.30 L607.50,1029.30 L608.00,1029.30 L608.50,1029.30 L609.00,1029.30 L609.50,1029.30 L610.00,1029.30 L610.50,1029.30 L611.00,1029.30 L611.50,1029.30 L612.00,1029.30 L612.50,1029.30 L613.00,1029.30 L613.50,1029.30 L614.00,1029.30 L614.50,1029.30 L615.00,1029.30 L615.50,1029.30 L616.00,1029.30 L616.50,1029.30 L617.00,1029.30 L617.50,1029.30 L618.00,1029.30 L618.50,1029.30 L619.00,1029.30 L619.50,1029.30 L620.00,1029.30 L620.50,1029.30 L621.00,1029.30 L621.50,1029.30 L622.00,1029.30 L622.50,1029.30 L623.00,1029.30 L623.50,1029.30 L624.00,1029.30 L624.50,1029.30 L625.00,1029.30 L625.50,1029.30 L626.00,1029.30 L626.50,1029.30 L627.00,1029.30 L627.50,1029.30 L628.00,1029.30 L628.50,1029.30 L629.00,1029.30 L629.50,1029.30 L630.00,1029.30 L630.50,1029.30 L631.00,1029.30 L631.50,1029.30 L632.00,1029.30 L632.50,1029.30 L633.00,1029.30 L633.50,1029.30 L634.00,1029.30 L634.50,1029.30 L635.00,1029.30 L635.50,1029.30 L636.00,1029.30 L636.50,1029.30 L637.00,1029.30 L637.50,1029.30 L638.00,1029.30 L638.50,1029.30 L639.00,1029.30 L639.50,1029.30 L640.00,1029.30 L640.50,1029.30 L641.00,1029.30 L641.50,1029.30 L642.00,1029.30 L642.50,1029.30 L643.00,1029.30 L643.50,1029.30 L644.00,1029.30 L644.50,1029.30 L645.00,1029.30 L645.50,1029.30 L646.00,1029.30 L646.50,1029.30 L647.00,1029.30 L647.50,1029.30 L648.00,1029.30 L648.50,1029.30 L649.00,1029.30 L649.50,1029.30 L650.00,1029.30 L650.50,1029.30 L651.00,1029.30 L651.50,1029.30 L652.00,1029.30 L652.50,1029.30 L653.00,1029.30 L653.50,1029.30 L654.00,1029.30 L654.50,1029.30 L655.00,1029.30 L655.50,1029.30 L656.00,1029.30 L656.50,1029.30 L657.00,1029.30 L657.50,1029.30 L658.00,1029.30 L658.50,1029.30 L659.00,1029.30 L659.50,1029.30 L660.00,1029.30 L660.50,1029.30 L661.00,1029.30 L661.50,1029.30 L662.00,1029.30 L662.50,1029.30 L663.00,1029.30 L663.50,1029.30 L664.00,1029.30 L664.50,1029.30 L665.00,1029.30 L665.50,1029.30 L666.00,1029.30 L666.50,1029.30 L667.00,1029.30 L667.50,1029.30 L668.00,1029.30 L668.50,1029.30 L669.00,1029.30 L669.50,1029.30 L670.00,1029.30 L670.50,1029.30 L671.00,1029.30 L671.50,1029.30 L672.00,1029.30 L672.50,1029.30 L673.00,1029.30 L673.50,1029.30 L674.00,1029.30 L674.50,1029.30 L675.00,1029.30 L675.50,1029.30 L676.00,1029.30 L676.50,1029.30 L677.00,1029.30 L677.50,1029.30 L678.00,1029.30 L678.50,1029.30 L679.00,1029.30 L679.50,1029.30 L680.00,1029.30 L680.50,1029.30 L681.00,1029.30 L681.50,1029.30 L682.00,1029.30 L682.50,1029.30 L683.00,1029.30 L683.50,1029.30 L684.00,1029.30 L684.50,1029.30 L685.00,1029.30 L685.50,1029.30 L686.00,1029.30 L686.50,1029.30 L687.00,1029.30 L687.50,1029.30 L688.00,1029.30 L688.50,1029.30 L689.00,1029.30 L689.50,1029.30 L690.00,1029.30 L690.50,1029.30 L691.00,1029.30 L691.50,1029.30 L692.00,1029.30 L692.50,1029.30 L693.00,1029.30 L693.50,1029.30 L694.00,1029.30 L694.50,1029.30 L695.00,1029.30 L695.50,1029.30 L696.00,1029.30 L696.50,1029.30 L697.00,1029.30 L697.50,1029.30 L698.00,1029.30 L698.50,1029.30 L699.00,1029.30 L699.50,1029.30 L700.00,1029.30 L700.50,1029.30 L701.00,1029.30 L701.50,1029.30 L702.00,1029.30 L702.50,1029.30 L703.00,1029.30 L703.50,1029.30 L704.00,1029.30 L704.50,1029.30 L705.00,1029.30 L705.50,1029.30 L706.00,1029.30 L706.50,1029.30 L707.00,1029.30 L707.50,1029.30 L708.00,1029.30 L708.50,1029.30 L709.00,1029.30 L709.50,1029.30 L710.00,1029.30 L710.50,1029.30 L711.00,1029.30 L711.50,1029.30 L712.00,1029.30 L712.50,1029.30 L713.00,1029.30 L713.50,1029.30 L714.00,1029.30 L714.50,1029.30 L715.00,1029.30 L715.50,1029.30 L716.00,1029.30 L716.50,1029.30 L717.00,1029.30 L717.50,1029.30 L718.00,1029.30 L718.50,1029.30 L719.00,1029.30 L719.50,1029.30 L720.00,1029.30 L720.50,1029.30 L721.00,1029.30 L721.50,1029.30 L722.00,1029.30 L722.50,1029.30 L723.00,1029.30 L723.50,1029.30 L724.00,1029.30 L724.50,1029.30 L725.00,1029.30 L725.50,1029.30 L726.00,1029.30 L726.50,1029.30 L727.00,1029.30 L727.50,1029.30 L728.00,1029.30 L728.50,1029.30 L729.00,1029.30 L729.50,1029.30 L730.00,1029.30 L730.50,1029.30 L731.00,1029.30 L731.50,1029.30 L732.00,1029.30 L732.50,1029.30 L733.00,1029.30 L733.50,1029.30 L734.00,1029.30 L734.50,1029.30 L735.00,1029.30 L735.50,1029.30 L736.00,1029.30 L736.50,1029.30 L737.00,1029.30 L737.50,1029.30 L738.00,1029.30 L738.50,1029.30 L739.00,1029.30 L739.50,1029.30 L740.00,1029.30 L740.50,1029.30 L741.00,1029.30 L741.50,1029.30 L742.00,1029.30 L742.50,1029.30 L743.00,1029.30 L743.50,1029.30 L744.00,1029.30 L744.50,1029.30 L745.00,1029.30 L745.50,1029.30 L746.00,1029.30 L746.50,1029.30 L747.00,1029.30 L747.50,1029.30 L748.00,1029.30 L748.50,1029.30 L749.00,1029.30 L749.50,1029.30 L750.00,1029.30 L750.50,1029.30 L751.00,1029.30 L751.50,1029.30 L752.00,1029.30 L752.50,1029.30 L753.00,1029.30 L753.50,1029.30 L754.00,1029.30 L754.50,1029.30 L755.00,1029.30 L755.50,1029.30 L756.00,1029.30 L756.50,1029.30 L757.00,1029.30 L757.50,1029.30 L758.00,1029.30 L758.50,1029.30 L759.00,1029.30 L759.50,1029.30 L760.00,1029.30 L760.50,1029.30 L761.00,1029.30 L761.50,1029.30 L762.00,1029.30 L762.50,1029.30 L763.00,1029.30 L763.50,1029.30 L764.00,1029.30 L764.50,1029.30 L765.00,1029.30 L765.50,1029.30 L766.00,1029.30 L766.50,1029.30 L767.00,1029.30 L767.50,1029.30 L768.00,1029.30 L768.50,1029.30 L769.00,1029.30 L769.50,1029.30 L770.00,1029.30 L770.50,1029.30 L771.00,1029.30 L771.50,1029.30 L772.00,1029.30 L772.50,1029.30 L773.00,1029.30 L773.50,1029.30 L774.00,1029.30 L774.50,1029.30 L775.00,1029.30 L775.50,1029.30 L776.00,1029.30 L776.50,1029.30 L777.00,1029.30 L777.50,1029.30 L778.00,1029.30 L778.50,1029.30 L779.00,1029.30 L779.50,1029.30 L780.00,1029.30 L780.50,1029.30 L781.00,1029.30 L781.50,1029.30 L782.00,1029.30 L782.50,1029.30 L783.00,1029.30 L783.50,1029.30 L784.00,1029.30 L784.50,1029.30 L785.00,1029.30 L785.50,1029.30 L786.00,1029.30 L786.50,1029.30 L787.00,1029.30 L787.50,1029.30 L788.00,1029.30 L788.50,1029.30 L789.00,1029.30 L789.50,1029.30 L790.00,1029.30 L790.50,1029.30 L791.00,1029.30 L791.50,1029.30 L792.00,1029.30 L792.50,1029.30 L793.00,1029.30 L793.50,1029.30 L794.00,1029.30 L794.50,1029.30 L795.00,1029.30 L795.50,1029.30 L796.00,1029.30 L796.50,1029.30 L797.00,1029.30 L797.50,1029.30 L798.00,1029.30 L798.50,1029.30 L799.00,1029.30 L799.50,1029.30 L800.00,1029.30 L800.50,1029.30 L801.00,1029.30 L801.50,1029.30 L802.00,1029.30 L802.50,1029.30 L803.00,1029.30 L803.50,1029.30 L804.00,1029.30 L804.50,1029.30 L805.00,1029.30 L805.50,1029.30 L806.00,1029.30 L806.50,1029.30 L807.00,1029.30 L807.50,1029.30 L808.00,1029.30 L808.50,1029.30 L809.00,1029.30 L809.50,1029.30 L810.00,1029.30 L810.50,1029.30 L811.00,1029.30 L811.50,1029.30 L812.00,1029.30 L812.50,1029.30 L813.00,1029.30 L813.50,1029.30 L814.00,1029.30 L814.50,1029.30 L815.00,1029.30 L815.50,1029.30 L816.00,1029.30 L816.50,1029.30 L817.00,1029.30 L817.50,1029.30 L818.00,1029.30 L818.50,1029.30 L819.00,1029.30 L819.50,1029.30 L820.00,1029.30 L820.50,1029.30 L821.00,1029.30 L821.50,1029.30 L822.00,1029.30 L822.50,1029.30 L823.00,1029.30 L823.50,1029.30 L824.00,1029.30 L824.50,1029.30 L825.00,1029.30 L825.50,1029.30 L826.00,1029.30 L826.50,1029.30 L827.00,1029.29 L827.50,1029.29 L828.00,1029.29 L828.50,1029.29 L829.00,1029.29 L829.50,1029.29 L830.00,1029.29 L830.50,1029.28 L831.00,1029.28 L831.50,1029.28 L832.00,1029.27 L832.50,1029.27 L833.00,1029.26 L833.50,1029.25 L834.00,1029.24 L834.50,1029.23 L835.00,1029.22 L835.50,1029.21 L836.00,1029.19 L836.50,1029.17 L837.00,1029.15 L837.50,1029.12 L838.00,1029.09 L838.50,1029.05 L839.00,1029.01 L839.50,1028.96 L840.00,1028.89 L840.50,1028.82 L841.00,1028.74 L841.50,1028.64 L842.00,1028.52 L842.50,1028.38 L843.00,1028.22 L843.50,1028.03 L844.00,1027.82 L844.50,1027.56 L845.00,1027.27 L845.50,1026.93 L846.00,1026.53 L846.50,1026.08 L847.00,1025.57 L847.50,1024.99 L848.00,1024.33 L848.50,1023.59 L849.00,1022.77 L849.50,1021.87 L850.00,1020.88 L850.50,1019.82 L851.00,1018.68 L851.50,1017.48 L852.00,1016.23 L852.50,1014.95 L853.00,1013.65 L853.50,1012.35 L854.00,1011.07 L854.50,1009.82 L855.00,1008.62 L855.50,1007.48 L856.00,1006.42 L856.50,1005.43 L857.00,1004.53 L857.50,1003.71 L858.00,1002.97 L858.50,1002.31 L859.00,1001.73 L859.50,1001.22 L860.00,1000.77 L860.50,1000.37 L861.00,1000.03 L861.50,999.74 L862.00,999.48 L862.50,999.27 L863.00,999.08 L863.50,998.92 L864.00,998.78 L864.50,998.66 L865.00,998.56 L865.50,998.48 L866.00,998.41 L866.50,998.34 L867.00,998.29 L867.50,998.25 L868.00,998.21 L868.50,998.18 L869.00,998.15 L869.50,998.13 L870.00,998.11 L870.50,998.09 L871.00,998.08 L871.50,998.07 L872.00,998.06 L872.50,998.05 L873.00,998.04 L873.50,998.03 L874.00,998.03 L874.50,998.02 L875.00,998.02 L875.50,998.02 L876.00,998.01 L876.50,998.01 L877.00,998.01 L877.50,998.01 L878.00,998.01 L878.50,998.01 L879.00,998.01 L879.50,998.00 L880.00,998.00 L880.50,998.00 L881.00,998.00 L881.50,998.00 L882.00,998.00 L882.50,998.00 L883.00,998.00 L883.50,998.00 L884.00,998.00 L884.50,998.00 L885.00,998.00 L885.50,998.00 L886.00,998.00 L886.50,998.00 L887.00,998.00 L887.50,998.00 L888.00,998.00 L888.50,998.00 L889.00,998.00 L889.50,998.00 L890.00,998.00 L890.50,998.00 L891.00,998.00 L891.50,998.00 L892.00,998.00 L892.50,998.00 L893.00,998.00 L893.50,998.00 L894.00,998.00 L894.50,998.00 L895.00,998.00 L895.50,998.00 L896.00,998.00 L896.50,998.00 L897.00,998.00 L897.50,998.00 L898.00,998.00 L898.50,998.00 L899.00,998.00 L899.50,998.00 L900.00,998.00 L900.50,998.00 L901.00,998.00 L901.50,998.00 L902.00,998.00 L902.50,998.00 L903.00,998.00 L903.50,998.00 L904.00,998.00 L904.50,998.00 L905.00,998.00 L905.50,998.00 L906.00,998.00 L906.50,998.00 L907.00,998.00 L907.50,998.00 L908.00,998.00 L908.50,998.00 L909.00,998.00 L909.50,998.00 L910.00,998.00 L910.50,998.00 L911.00,998.00 L911.50,998.00 L912.00,998.00 L912.50,998.00 L913.00,998.00 L913.50,998.00 L914.00,998.00 L914.50,998.00 L915.00,998.00 L915.50,998.00 L916.00,998.00 L916.50,998.00 L917.00,998.00 L917.50,998.00 L918.00,998.00 L918.50,998.00 L919.00,998.00 L919.50,998.00 L920.00,998.00 L920.50,998.00 L921.00,998.00 L921.50,998.00 L922.00,998.00 L922.50,998.00 L923.00,998.00 L923.50,998.00 L924.00,998.00 L924.50,998.00 L925.00,998.00 L925.50,998.00 L926.00,998.00 L926.50,998.00 L927.00,998.00 L927.50,998.00 L928.00,998.00 L928.50,998.00 L929.00,998.00 L929.50,998.00 L930.00,998.00 L930.50,998.00 L931.00,998.00 L931.50,998.00 L932.00,998.00 L932.50,998.00 L933.00,998.00 L933.50,998.00 L934.00,998.00 L934.50,998.00 L935.00,998.00 L935.50,998.00 L936.00,998.00 L936.50,998.00 L937.00,998.00 L937.50,998.00 L938.00,998.00 L938.50,998.00 L939.00,998.00 L939.50,998.00 L940.00,998.00 L940.50,998.00 L941.00,998.00 L941.50,998.00 L942.00,998.00 L942.50,998.00 L943.00,998.00 L943.50,998.00 L944.00,998.00 L944.50,998.00 L945.00,998.00 L945.50,998.00 L946.00,998.00 L946.50,998.00 L947.00,998.00 L947.50,998.00 L948.00,998.00 L948.50,998.00 L949.00,998.00 L949.50,998.00 L950.00,998.00 L950.50,998.00 L951.00,998.00 L951.50,998.00 L952.00,998.00 L952.50,998.00 L953.00,998.00 L953.50,998.00 L954.00,998.00 L954.50,998.00 L955.00,998.00 L955.50,998.00 L956.00,998.00 L956.50,998.00 L957.00,998.00 L957.50,998.00 L958.00,998.00 L958.50,998.00 L959.00,998.00 L959.50,998.00 L960.00,998.00 L960.50,998.00 L961.00,998.00 L961.50,998.00 L962.00,998.00 L962.50,998.00 L963.00,998.00 L963.50,998.00 L964.00,998.00 L964.50,998.00 L965.00,998.00 L965.50,998.00 L966.00,998.00 L966.50,998.00 L967.00,998.00 L967.50,998.00 L968.00,998.00 L968.50,998.00 L969.00,998.00 L969.50,998.00 L970.00,998.00 L970.50,998.00 L971.00,998.00 L971.50,998.00 L972.00,998.00 L972.50,998.00 L973.00,998.00 L973.50,998.00 L974.00,998.00 L974.50,998.00 L975.00,998.00 L975.50,998.00 L976.00,998.00 L976.50,998.00 L977.00,998.00 L977.50,998.00 L978.00,998.00 L978.50,998.00 L979.00,998.00 L979.50,998.00 L980.00,998.00 L980.50,998.00 L981.00,998.00 L981.50,998.00 L982.00,998.00 L982.50,998.00 L983.00,998.00 L983.50,998.00 L984.00,998.00 L984.50,998.00 L985.00,998.00 L985.50,998.00 L986.00,998.00 L986.50,998.00 L987.00,998.00 L987.50,998.00 L988.00,998.00 L988.50,998.00 L989.00,998.00 L989.50,998.00 L990.00,998.00 L990.50,998.00 L991.00,998.00 L991.50,998.00 L992.00,998.00 L992.50,998.00 L993.00,998.00 L993.50,998.00 L994.00,998.00 L994.50,998.00 L995.00,998.00 L995.50,998.00 L996.00,998.00 L996.50,998.00 L997.00,998.00 L997.50,998.00 L998.00,998.00 L998.50,998.00 L999.00,998.00 L999.50,998.00 L1000.00,998.00 L1000.50,998.00 L1001.00,998.00 L1001.50,998.00 L1002.00,998.00 L1002.50,998.00 L1003.00,998.00 L1003.50,998.00 L1004.00,998.00 L1004.50,998.00 L1005.00,998.00 L1005.50,998.00 L1006.00,998.00 L1006.50,998.00 L1007.00,998.00 L1007.50,998.00 L1008.00,998.00 L1008.50,998.00 L1009.00,998.00 L1009.50,998.00 L1010.00,998.00 L1010.50,998.00 L1011.00,998.00 L1011.50,998.00 L1012.00,998.00 L1012.50,998.00 L1013.00,998.00 L1013.50,998.00 L1014.00,998.00 L1014.50,998.00 L1015.00,998.00 L1015.50,998.00 L1016.00,998.00 L1016.50,998.00 L1017.00,998.00 L1017.50,998.00 L1018.00,998.00 L1018.50,998.00 L1019.00,998.00 L1019.50,998.00 L1020.00,998.00 L1020.50,998.00 L1021.00,998.00 L1021.50,998.00 L1022.00,998.00 L1022.50,998.00 L1023.00,998.00 L1023.50,998.00 L1024.00,998.00 L1024.50,998.00 L1025.00,998.00 L1025.50,998.00 L1026.00,998.00 L1026.50,998.00 L1027.00,998.00 L1027.50,998.00 L1028.00,998.00 L1028.50,998.00 L1029.00,998.00 L1029.50,998.00 L1030.00,998.00 L1030.50,998.00 L1031.00,998.00 L1031.50,998.00 L1032.00,998.00 L1032.50,998.00 L1033.00,998.00 L1033.50,998.00 L1034.00,998.00 L1034.50,998.00 L1035.00,998.00 L1035.50,998.00 L1036.00,998.00 L1036.50,998.00 L1037.00,998.00 L1037.50,998.00 L1038.00,998.00 L1038.50,998.00 L1039.00,998.00 L1039.50,998.00 L1040.00,998.00 L1040.50,998.00 L1041.00,998.00 L1041.50,998.00 L1042.00,998.00 L1042.50,998.00 L1043.00,998.00 L1043.50,998.00 L1044.00,998.00 L1044.50,998.00 L1045.00,998.00 L1045.50,998.00 L1046.00,998.00 L1046.50,998.00 L1047.00,998.00 L1047.50,998.00" fill="none" stroke="#FF0000" stroke-width="6" stroke-linejoin="round"/>
<circle cx="268.2" cy="79" r="14" fill="#000"/><circle cx="268.2" cy="123.0" r="12.5" fill="#00FF00" stroke="#000" stroke-width="3"/><path d="M255.7,166.5 L283.8,166.5 L269.7,189 Z" fill="#0000FF" stroke="#000" stroke-width="3"/><path d="M255.7,232.3 L283.8,232.3 L269.7,207.5 Z" fill="#FF0000" stroke="#000" stroke-width="3"/>
<g transform="translate(120.27,64.70) scale(1.1625,1.0714)"><text fill="#000" x="0" y="0" font-family='"Liberation Sans", Arial, sans-serif' font-weight="normal" font-size="50" >3</text></g><g transform="translate(118.64,390.30) scale(1.2864,1.0714)"><text fill="#000" x="0" y="0" font-family='"Liberation Sans", Arial, sans-serif' font-weight="normal" font-size="50" >2</text></g><g transform="translate(122.33,718.70) scale(0.8667,1.0571)"><text fill="#000" x="0" y="0" font-family='"Liberation Sans", Arial, sans-serif' font-weight="normal" font-size="50" >1</text></g><g transform="translate(120.14,1047.50) scale(1.1792,1.0714)"><text fill="#000" x="0" y="0" font-family='"Liberation Sans", Arial, sans-serif' font-weight="normal" font-size="50" >0</text></g><g transform="translate(252.12,1251.40) scale(1.0409,1.0743)"><text fill="#000" x="0" y="0" font-family='"Liberation Sans", Arial, sans-serif' font-weight="normal" font-size="50" >0.01</text></g><g transform="translate(480.28,1251.40) scale(1.0108,1.0686)"><text fill="#000" x="0" y="0" font-family='"Liberation Sans", Arial, sans-serif' font-weight="normal" font-size="50" >0.1</text></g><g transform="translate(716.42,1251.40) scale(0.8952,1.0829)"><text fill="#000" x="0" y="0" font-family='"Liberation Sans", Arial, sans-serif' font-weight="normal" font-size="50" >1</text></g><g transform="translate(913.20,1251.40) scale(1.0760,1.0829)"><text fill="#000" x="0" y="0" font-family='"Liberation Sans", Arial, sans-serif' font-weight="normal" font-size="50" >10</text></g><g transform="translate(1110.62,1251.30) scale(1.0961,1.0743)"><text fill="#000" x="0" y="0" font-family='"Liberation Sans", Arial, sans-serif' font-weight="normal" font-size="50" >100</text></g><g transform="translate(1304.49,1251.40) scale(1.1286,1.0686)"><text fill="#000" x="0" y="0" font-family='"Liberation Sans", Arial, sans-serif' font-weight="normal" font-size="50" >1000</text></g><g transform="translate(511.19,1372.80) scale(1.0035,1.0294)"><text stroke="#fff" stroke-width="0.394" fill="#000" x="0" y="0" font-family='"Liberation Sans", Arial, sans-serif' font-weight="bold" font-size="72" >Concentration (&#181;M)</text></g><g transform="translate(66.00,682.98) rotate(-90) scale(0.9895,1.0560)"><text stroke="#fff" stroke-width="0.391" fill="#000" x="0" y="0" font-family='"Liberation Sans", Arial, sans-serif' font-weight="bold" font-size="72" ><tspan font-weight="normal">&#916;</tspan>F/F0</text></g><g transform="translate(336.98,86.60) scale(0.9110,0.9719)"><text fill="#000" x="0" y="0" font-family='"Liberation Sans", Arial, sans-serif' font-weight="bold" font-size="44" >Sucralos</text></g><g transform="translate(508.69,86.60) scale(1.1571,0.9125)"><text stroke="#fff" stroke-width="0.973" fill="#000" x="0" y="0" font-family='"Liberation Sans", Arial, sans-serif' font-weight="bold" font-size="44" >e</text></g><g transform="translate(541.18,85.80) scale(0.9545,0.9677)"><text fill="#000" x="0" y="0" font-family='"Liberation Sans", Arial, sans-serif' font-weight="normal" font-size="44" >EC</text></g><g transform="translate(600.66,99.20) scale(0.9222,0.9968)"><text fill="#000" x="0" y="0" font-family='"Liberation Sans", Arial, sans-serif' font-weight="normal" font-size="44" >50</text></g><g transform="translate(655.77,84.64) scale(1.1136,0.8929)"><text fill="#000" x="0" y="0" font-family='"Liberation Sans", Arial, sans-serif' font-weight="normal" font-size="44" >=</text></g><g transform="translate(702.07,86.80) scale(0.9342,1.0097)"><text fill="#000" x="0" y="0" font-family='"Liberation Sans", Arial, sans-serif' font-weight="normal" font-size="44" >45.4 &#177; 3.9 &#181;M (max = 2.47 &#177; 0.06)</text></g><g transform="translate(333.30,137.00) scale(0.9000,1.0065)"><text stroke="#fff" stroke-width="0.630" fill="#000" x="0" y="0" font-family='"Liberation Sans", Arial, sans-serif' font-weight="bold" font-size="44" >1</text></g><g transform="translate(333.19,187.00) scale(1.0571,1.0065)"><text stroke="#fff" stroke-width="0.582" fill="#000" x="0" y="0" font-family='"Liberation Sans", Arial, sans-serif' font-weight="bold" font-size="44" >2</text></g><g transform="translate(333.08,236.70) scale(1.1100,0.9968)"><text fill="#000" x="0" y="0" font-family='"Liberation Sans", Arial, sans-serif' font-weight="normal" font-size="44" >3</text></g><g transform="translate(846.86,395.26) scale(0.8279,0.9359)"><text stroke="#fff" stroke-width="0.568" fill="#000" x="0" y="0" font-family='"DejaVu Sans", "Liberation Sans", sans-serif' font-weight="bold" font-size="70" >Sucralose</text></g><g transform="translate(1074.48,756.90) scale(0.9541,0.9538)"><text stroke="#fff" stroke-width="0.524" fill="#0000FF" x="0" y="0" font-family='"DejaVu Sans", "Liberation Sans", sans-serif' font-weight="bold" font-size="70" >2</text></g><g transform="translate(1076.11,957.00) scale(0.8861,0.9804)"><text stroke="#fff" stroke-width="2.146" fill="#00B050" x="0" y="0" font-family='"DejaVu Sans", "Liberation Sans", sans-serif' font-weight="bold" font-size="70" >1</text></g><g transform="translate(1072.91,1043.36) scale(0.8974,0.9358)"><text stroke="#fff" stroke-width="0.546" fill="#FF0000" x="0" y="0" font-family='"DejaVu Sans", "Liberation Sans", sans-serif' font-weight="bold" font-size="70" >3</text></g>
</svg>
</body></html>
